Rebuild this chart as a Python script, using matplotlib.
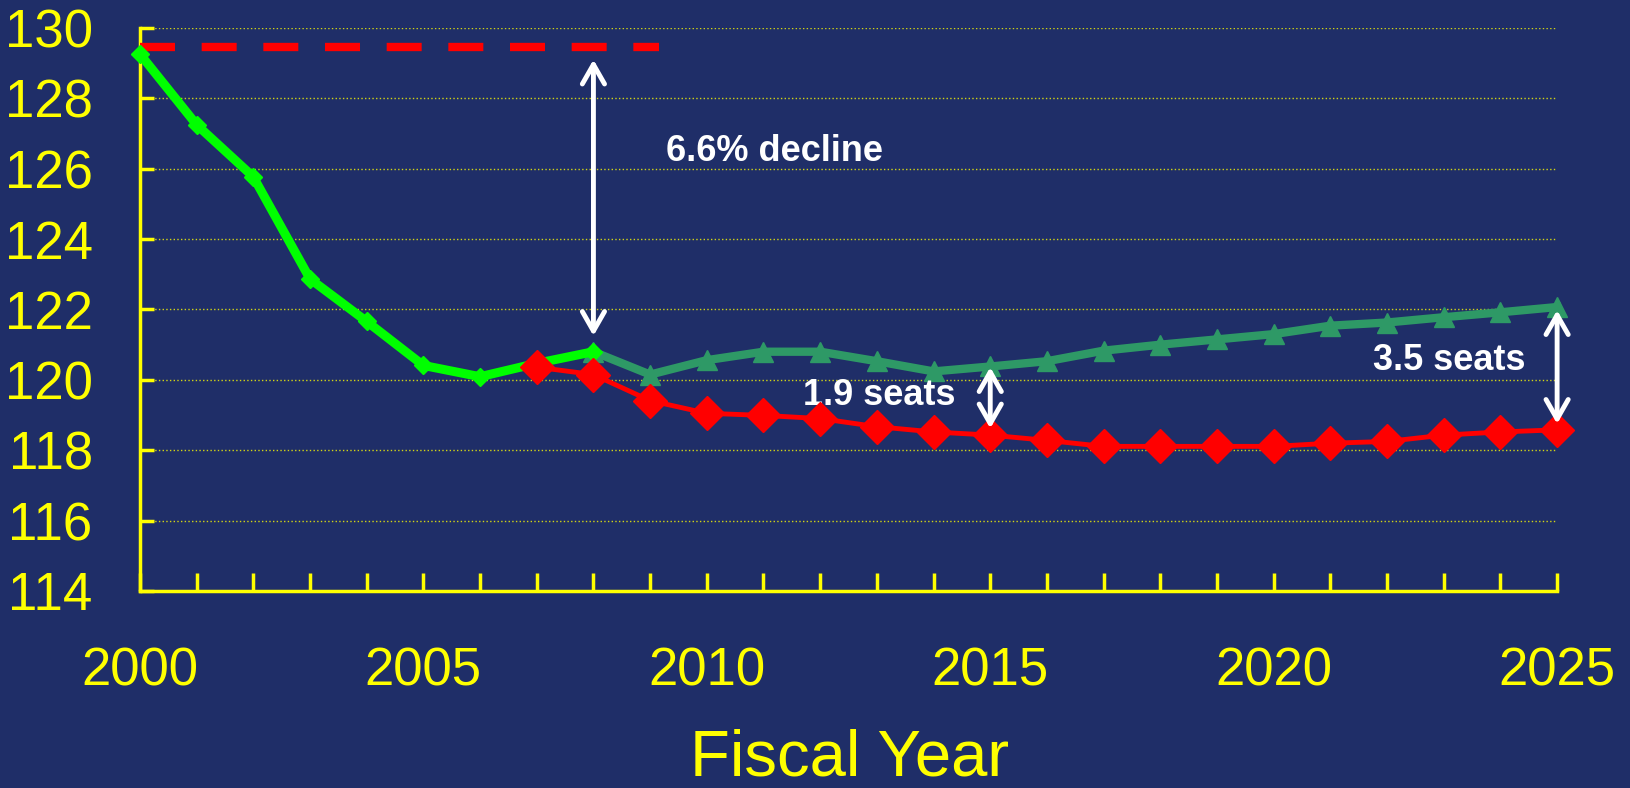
import matplotlib.pyplot as plt
import numpy as np

plt.rcParams['font.family'] = ['Liberation Sans', 'DejaVu Sans']

# data
years_hist = [2000, 2001, 2002, 2003, 2004, 2005, 2006, 2007, 2008]
seats_hist = [129.26, 127.25, 125.77, 122.87, 121.66, 120.41, 120.09, 120.47, 120.8]

years_red = list(range(2007, 2026))
seats_red = [120.36, 120.15, 119.41, 119.05, 118.99, 118.9, 118.67, 118.52, 118.43,
             118.28, 118.11, 118.11, 118.11, 118.11, 118.2, 118.25, 118.43, 118.52, 118.58]

years_green = list(range(2008, 2026))
seats_green = [120.8, 120.15, 120.56, 120.8, 120.8, 120.53, 120.24, 120.38, 120.53,
               120.83, 121.0, 121.15, 121.3, 121.54, 121.63, 121.78, 121.92, 122.07]

baseline_level = 129.47
baseline_span = [2000, 2009.15]

bg = '#1f2e68'
yellow = '#ffff00'

fig = plt.figure(figsize=(16.31, 7.88), dpi=100, facecolor=bg)
ax = fig.add_axes([0.0858, 0.25, 0.8689, 0.7145])
ax.set_facecolor(bg)

ax.plot(baseline_span, [baseline_level, baseline_level], color='#ff0000', lw=6,
        dashes=(4.2, 3.2), solid_capstyle='butt', dash_capstyle='butt', clip_on=False, zorder=3)
ax.plot(years_hist, seats_hist, color='#00ff00', lw=6.5, marker='D', ms=9,
        clip_on=False, zorder=4)
ax.plot(years_green, seats_green, color='#2e9966', lw=6, marker='^', ms=15,
        clip_on=False, zorder=3)
ax.plot(years_red, seats_red, color='#ff0000', lw=3.5, marker='D', ms=17,
        clip_on=False, zorder=5)

# arrows
arrow_kw = dict(arrowstyle='<->,head_length=1.4,head_width=0.8', color='white', lw=3.5,
                shrinkA=0, shrinkB=0)
ax.annotate('', xy=(2008, 121.25), xytext=(2008, 129.1), arrowprops=arrow_kw, zorder=6)
ax.annotate('', xy=(2015, 118.62), xytext=(2015, 120.36), arrowprops=arrow_kw, zorder=6)
ax.annotate('', xy=(2025, 118.75), xytext=(2025, 121.98), arrowprops=arrow_kw,
            zorder=6, annotation_clip=False)

ax.text(2011.2, 126.5, '6.6% decline', color='white', fontsize=26, fontweight='bold',
        ha='center', va='center')
ax.text(2013.05, 119.55, '1.9 seats', color='white', fontsize=26, fontweight='bold',
        ha='center', va='center')
ax.text(2023.1, 120.56, '3.5 seats', color='white', fontsize=26, fontweight='bold',
        ha='center', va='center')

ax.set_xlim(2000, 2025)
ax.set_ylim(114, 130)
ax.set_yticks(np.arange(114, 131, 2))
ax.set_xticks(np.arange(2000, 2026, 5))
ax.set_xticks(np.arange(2000, 2026, 1), minor=True)

ax.grid(axis='y', color=yellow, linestyle=':', lw=1.0, alpha=0.8)
ax.set_axisbelow(True)

for s in ['top', 'right']:
    ax.spines[s].set_visible(False)
for s in ['left', 'bottom']:
    ax.spines[s].set_color(yellow)
    ax.spines[s].set_linewidth(2.5)

ax.tick_params(axis='y', direction='in', length=10, width=2.5, color=yellow,
               labelcolor=yellow, labelsize=38, pad=34)
ax.tick_params(axis='x', which='both', direction='in', length=13, width=2.5, color=yellow,
               labelcolor=yellow, labelsize=38, pad=40)

fig.text(0.521, 0.016, 'Fiscal Year', color=yellow, fontsize=47, ha='center', va='baseline')

fig.savefig('out.png', dpi=100, facecolor=bg)
